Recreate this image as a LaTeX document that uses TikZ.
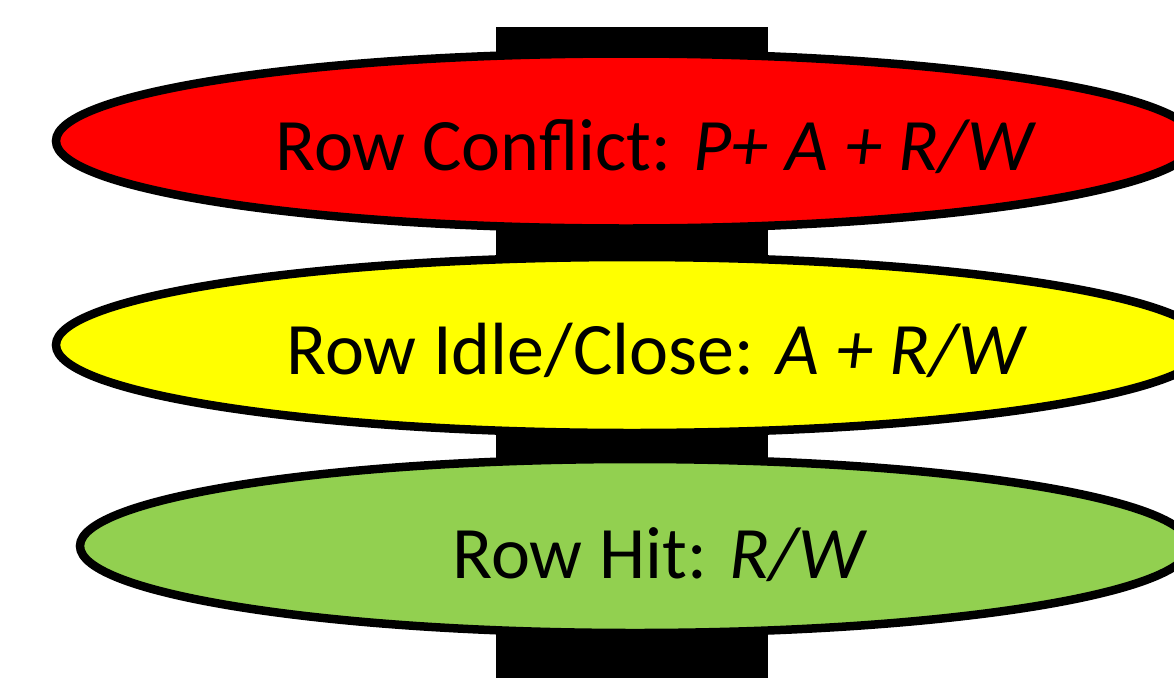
\documentclass[tikz,border=0pt]{standalone}
\usepackage{fontspec}
\setmainfont{Carlito}
\usetikzlibrary{shapes.geometric}

\definecolor{hitgreen}{RGB}{146,208,80}
\definecolor{idleyellow}{RGB}{255,255,0}
\definecolor{conflictred}{RGB}{255,0,0}

\tikzset{
	rowstate/.style={ellipse, draw=black, line width=8.5pt, inner sep=0pt},
	rowtext/.style={inner sep=0pt, anchor=base, font=\fontsize{74}{82}\selectfont},
}

\begin{document}
\begin{tikzpicture}[x=1pt,y=-1pt]
	\useasboundingbox (0,0) rectangle (1174,678);
	
	% bank spine behind the states
	\fill[black] (496,27) rectangle (768,678);
	
	% row buffer states
	\node[rowstate, fill=conflictred, minimum width=1140, minimum height=175] (conflict) at (626,141) {};
	\node[rowstate, fill=idleyellow, minimum width=1152, minimum height=176] (idle) at (632,345) {};
	\node[rowstate, fill=hitgreen, minimum width=1110, minimum height=174] (hit) at (635,546) {};
	
	% Text Node
	\node[rowtext] (conflictlbl) at (656,170) {Row Conflict: \textit{P+ A + R/W}};
	% Text Node
	\node[rowtext] (idlelbl) at (657,374) {Row Idle/Close: \textit{A + R/W}};
	% Text Node
	\node[rowtext] (hitlbl) at (660,578) {Row Hit: \textit{R/W}};
	
\end{tikzpicture}
\end{document}
